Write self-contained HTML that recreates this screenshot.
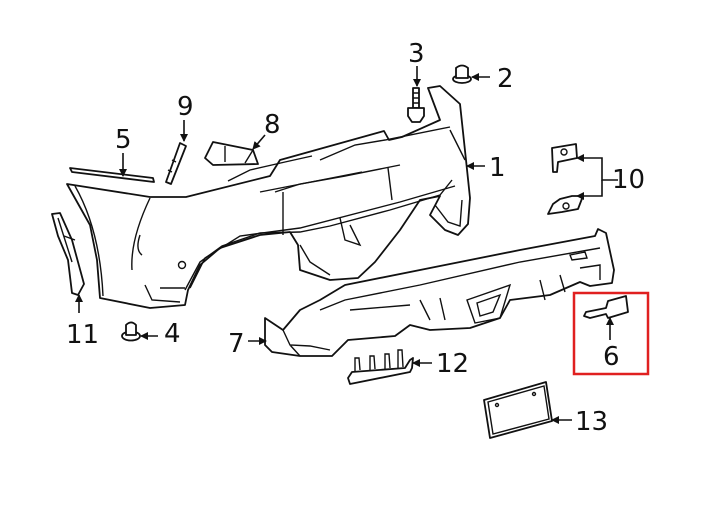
<!DOCTYPE html>
<html><head><meta charset="utf-8"><style>
html,body{margin:0;padding:0;background:#fff;width:705px;height:518px;overflow:hidden}
svg{display:block}
text{font-family:"DejaVu Sans","Liberation Sans",sans-serif;font-size:26px;fill:#111}
.p{fill:#fff;stroke:#111;stroke-width:1.8;stroke-linejoin:round}
.l{fill:none;stroke:#111;stroke-width:1.4}
.a{fill:none;stroke:#111;stroke-width:1.6}
</style></head><body>
<svg width="705" height="518" viewBox="0 0 705 518" xmlns="http://www.w3.org/2000/svg">
<defs><marker id="ah" markerWidth="8" markerHeight="8" refX="7" refY="4" orient="auto" markerUnits="userSpaceOnUse"><path d="M0,0 L8,4 L0,8 z" fill="#111"/></marker></defs>

<path class="p" d="M67,184 L150,197 L186,197 L270,176 L280,160 L384,131 L389,140 L402,137 L440,120 L428,88 L440,86 L460,104 L466,160 L470,198 L468,224 L458,235 L445,230 L430,215 L440,196 L420,200 L400,230 L375,262 L358,278 L330,280 L300,270 L298,245 L290,232 L260,235 L220,248 L200,265 L188,290 L185,305 L150,308 L100,298 L97,260 L90,225 Z"/>
<path class="l" d="M75,186 Q100,230 103,296"/>
<path class="l" d="M150,198 Q130,240 132,270"/>
<path class="l" d="M140,235 Q135,250 142,255"/>
<path class="l" d="M185,290 L200,262 L222,246 L260,233 L300,232 L330,226 L390,210 L440,195 L452,180"/>
<path class="l" d="M190,288 L205,258 L240,236 L300,228 L400,202 L455,186"/>
<path class="l" d="M228,181 L250,170 L285,162 L312,156"/>
<path class="l" d="M320,160 L355,145 L385,140 L450,127"/>
<path class="l" d="M275,192 L300,184 L345,176 L400,165"/>
<path class="l" d="M283,192 L283,235 M388,168 L392,200 M260,192 L362,172"/>
<path class="l" d="M450,130 L465,160 M435,205 L448,222 L460,226 L462,200"/>
<path class="l" d="M300,245 L310,262 L330,275 M340,218 L345,240 L360,245 L350,225"/>
<path class="l" d="M145,285 L152,300 L180,302 M160,288 L185,288"/>
<circle class="l" cx="182" cy="265" r="3.5"/>

<path class="p" d="M265,318 L283,330 L300,310 L320,300 L345,285 L430,268 L520,250 L595,236 L598,229 L606,233 L614,270 L612,283 L590,286 L580,282 L550,295 L510,300 L500,318 L470,328 L430,330 L410,325 L395,336 L348,340 L332,356 L300,356 L272,352 L265,345 Z"/>
<path class="l" d="M283,330 L290,345 L310,346 L330,350 M290,345 L300,356"/>
<path class="l" d="M320,310 L345,300 L420,285 L520,262 L600,248"/>
<path class="l" d="M350,310 L410,305 M420,300 L430,320 M440,298 L445,320"/>
<path class="l" d="M467,300 L510,285 L500,318 L475,323 Z M477,303 L500,295 L493,312 L480,316 Z"/>
<path class="l" d="M540,280 L545,300 M560,275 L565,292 M570,255 L585,252 L587,258 L572,260 Z M580,268 L600,265 L600,280"/>

<path class="p" d="M70,168 L72,172 L154,182 L153,178 Z"/>
<path class="p" d="M166,182 L180,143 L186,146 L171,184 Z"/>
<path class="l" d="M172,160 L176,162 M168,170 L172,172"/>
<path class="p" d="M205,158 L213,142 L253,150 L258,164 L213,165 Z"/>
<path class="l" d="M225,146 L225,162 M253,150 L245,163"/>
<path class="p" d="M52,214 L60,213 L72,240 L84,284 L78,295 L72,293 L68,260 L58,236 Z"/>
<path class="l" d="M58,218 L72,262 M64,236 L75,240"/>
<path class="p" d="M413,88 L419,88 L419,108 L413,108 Z"/>
<path class="p" d="M408,108 L424,108 L424,116 L420,122 L412,122 L408,116 Z"/>
<path class="l" d="M413,93 L419,93 M413,98 L419,98 M413,103 L419,103"/>
<ellipse class="p" cx="462" cy="79" rx="9" ry="4"/>
<path class="p" d="M456,68 Q462,63 468,68 L468,78 L456,78 Z"/>
<ellipse class="p" cx="131" cy="336" rx="9" ry="4.5"/>
<path class="p" d="M126,325 Q131,320 136,325 L136,335 L126,335 Z"/>
<path class="p" d="M552,148 L576,144 L577,158 L558,162 L557,172 L553,172 Z"/>
<circle class="l" cx="564" cy="152" r="3"/>
<path class="p" d="M548,214 L553,204 L560,199 L572,196 L583,196 L578,209 L562,212 Z"/>
<circle class="l" cx="566" cy="206" r="3"/>
<path class="p" d="M348,378 L352,372 L405,368 L410,360 L413,358 L412,368 L410,372 L350,384 Z"/>
<path class="l" d="M355,372 L355,358 L359,358 L360,370 M370,371 L370,356 L374,356 L375,369 M385,370 L385,354 L389,354 L390,368 M398,369 L398,350 L402,350 L403,367"/>
<path class="p" d="M484,400 L546,382 L552,421 L490,438 Z"/>
<path class="l" d="M488,402 L544,386 L549,419 L493,434 Z"/>
<circle class="l" cx="497" cy="405" r="1.5"/><circle class="l" cx="534" cy="394" r="1.5"/>
<path class="p" d="M584,316 L586,312 L606,308 L608,301 L626,296 L628,312 L608,318 L606,314 L590,318 Z"/>

<line class="a" x1="417" y1="66" x2="417" y2="86" marker-end="url(#ah)"/>
<line class="a" x1="490" y1="77" x2="472" y2="77" marker-end="url(#ah)"/>
<line class="a" x1="485" y1="166" x2="467" y2="166" marker-end="url(#ah)"/>
<line class="a" x1="184" y1="120" x2="184" y2="141" marker-end="url(#ah)"/>
<line class="a" x1="265" y1="135" x2="253" y2="149" marker-end="url(#ah)"/>
<line class="a" x1="123" y1="153" x2="123" y2="176" marker-end="url(#ah)"/>
<path class="a" d="M618,180 L602,180 L602,158 L580,158"/>
<path class="a" d="M602,180 L602,196 L580,196"/>
<path d="M576,158 l8,-4 v8 z M576,196 l8,-4 v8 z" fill="#111"/>
<line class="a" x1="79" y1="313" x2="79" y2="295" marker-end="url(#ah)"/>
<line class="a" x1="158" y1="336" x2="141" y2="336" marker-end="url(#ah)"/>
<line class="a" x1="248" y1="341" x2="266" y2="341" marker-end="url(#ah)"/>
<line class="a" x1="432" y1="363" x2="413" y2="363" marker-end="url(#ah)"/>
<line class="a" x1="610" y1="340" x2="610" y2="318" marker-end="url(#ah)"/>
<line class="a" x1="572" y1="420" x2="552" y2="420" marker-end="url(#ah)"/>

<rect x="574" y="293" width="74" height="81" fill="none" stroke="#e02020" stroke-width="2.5"/>

<text x="408" y="62">3</text>
<text x="497" y="87">2</text>
<text x="489" y="176">1</text>
<text x="177" y="115">9</text>
<text x="264" y="133">8</text>
<text x="115" y="148">5</text>
<text x="612" y="188">10</text>
<text x="66" y="343">11</text>
<text x="164" y="342">4</text>
<text x="228" y="352">7</text>
<text x="436" y="372">12</text>
<text x="603" y="365">6</text>
<text x="575" y="430">13</text>
</svg>
</body></html>
